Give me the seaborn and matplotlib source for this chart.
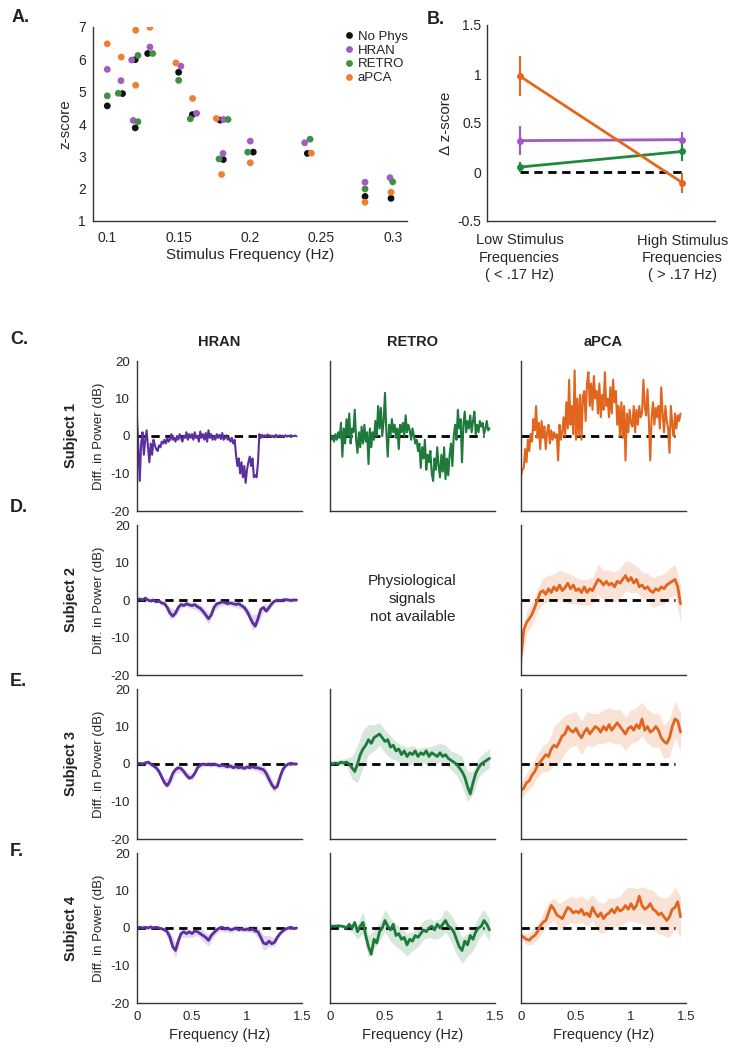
import numpy as np
import pandas as pd
import matplotlib
matplotlib.use("Agg")
import matplotlib.pyplot as plt
import seaborn as sns
from matplotlib import font_manager

# ---------------- data: panel A ----------------
methods = ["No Phys", "HRAN", "RETRO", "aPCA"]
nophys_x = [0.1, 0.1107, 0.1196, 0.1196, 0.1283, 0.15, 0.1596, 0.179, 0.1813, 0.2023, 0.2402, 0.2806, 0.2988]
nophys_z = [4.56, 4.94, 5.99, 3.88, 6.18, 5.60, 4.29, 4.12, 2.90, 3.13, 3.09, 1.76, 1.70]
hran_x = [0.1, 0.1096, 0.1171, 0.1182, 0.1299, 0.1516, 0.1626, 0.1815, 0.1811, 0.2002, 0.2383, 0.2806, 0.2981]
hran_z = [5.69, 5.34, 5.98, 4.11, 6.38, 5.79, 4.33, 4.14, 3.09, 3.47, 3.42, 2.20, 2.34]
retro_x = [0.1, 0.1077, 0.1215, 0.1215, 0.1318, 0.15, 0.1582, 0.1846, 0.1783, 0.1984, 0.2421, 0.2806, 0.3]
retro_z = [4.87, 4.95, 6.12, 4.07, 6.18, 5.35, 4.16, 4.14, 2.92, 3.13, 3.53, 1.99, 2.21]
apca_x = [0.1, 0.1098, 0.1199, 0.1199, 0.1299, 0.1481, 0.1598, 0.1764, 0.1801, 0.2002, 0.2430, 0.2806, 0.2988]
apca_z = [6.48, 6.07, 6.90, 5.20, 6.99, 5.89, 4.79, 4.17, 2.44, 2.80, 3.10, 1.58, 1.89]
a_xticks = [0.1, 0.15, 0.2, 0.25, 0.3]
a_xticklabels = ["0.1", "0.15", "0.2", "0.25", "0.3"]
a_yticks = [1, 2, 3, 4, 5, 6, 7]

# ---------------- data: panel B ----------------
b_groups = ["Low Stimulus\nFrequencies\n( < .17 Hz)", "High Stimulus\nFrequencies\n( > .17 Hz)"]
b_hran = [0.32, 0.33]
b_hran_err = [0.145, 0.075]
b_retro = [0.05, 0.21]
b_retro_err = [0.05, 0.10]
b_apca = [0.98, -0.11]
b_apca_err = [0.20, 0.10]
b_yticks = [-0.5, 0, 0.5, 1, 1.5]
b_yticklabels = ["-0.5", "0", "0.5", "1", "1.5"]

# ---------------- data: panels C-F (difference in power, dB) ----------------
fine_step = 0.0125      # subject 1 spectra
coarse_step = 0.025     # subjects 2-4 spectra

hran_s1 = [4.5, -3, -12, -2, 1, -5, -1, 1.5, -3, -7, -2, -5, -1,
           -2.5, -3.5, -4, -2.5, -3, -1.5, -2, -1, -2, -0.5, -1.5, -1,
           0.5, -1, -0.5, -1.5, 0, -1, 0.5, -0.5, -1.5, 0, -0.5, 1,
           -1, 0.5, -0.5, 0.5, -1, 1, -0.5, 0, -1.5, 1.2, -0.5, 0.5,
           -1, 0.8, -1.5, 1.5, -0.5, 0.5, -1, 0, -1, 0.5, -0.5, 0.3,
           -0.8, 0.8, -1, -0.5, 0.2, -1, -0.5, -1.5, -0.5, -2, -1, -5,
           -8, -6, -10, -7, -11, -8, -12.5, -9, -7, -5.5, -8, -6,
           -11, -10.5, -11, -7, 0.5, -0.5, 0.3, -0.3, 0.2, -0.2, 0.4, -0.1,
           0.2, -0.3, 0.1, -0.4, 0.3, 0, -0.2, 0.2, -0.3, 0.1, -0.1, 0.2,
           -0.2, 0.1, -0.1, 0.2, -0.1, 0, 0.1, -0.1]
retro_s1 = [0.5, -1, 0, -1.5, 0.5, -1, 1, -0.5, 3.5, -5.5, 2, -2, 4.5,
            0, 6, -2, 2, 1, 7, -1, -4.5, 1, -3, 2.5, -2,
            3, -1.5, 1, -7.5, 2, -3, 1, -1, 4, 0, 8, 2,
            7.5, 0, 4, 11.5, 1, -5.5, 3, 0, 4.5, 1, 3, -0.5,
            2, -3.5, 3, 1, 3.5, 0, 5.5, 1, 3, 1.5, -1, 2,
            0, -2, -1, -4, -2, -8.5, -3, -6, -1, -9, -5, -7,
            -4, -10, -12, -6, -9, -3, -8, -11, -5, -9.5, -3, -11.5,
            -6, -10.5, -5, -2, -8, 0, 3, -1, 7, 2, 4.5, -7,
            3, 6.5, 1, 4, 2, 5.5, 1, 4, 6.5, 0.5, 3, 1,
            4, 2.5, 3.5, 0.5, 2, 4, 1.5, 2]
apca_s1 = [-10.5, -9, -8.5, -3.5, -7, -1, -4, 0.5, -1.5, 4.5, 1.5, 8, -0.5,
           3.5, -3.5, 4, -0.5, 2.5, -3.5, 1, 3, -2, 1.5, -1, 1,
           -0.5, 0.5, -6.5, 3, -1, 1, 5, 0, 9, 2, 15, 3,
           8, 0.5, 17.5, -1, 10, 0, 11, -1, 10.5, 12, 4, 14,
           17, 8, 14, 7, 16, 10, 12, 6, 14, 5, 11, 7,
           17, 8, 10, 5, 13, 6, 15, 9, 12, 3, 8, 0,
           9, -0.5, 8, -6.5, 6, 1, 7, 3.5, 2.5, 8, 1, 7,
           3, 8, 5, 6, 15, 8, 5.5, 12.5, 4, -6.5, 5, 9,
           3, 7.5, 5, 8, 2, 13, 6, 1, 8, 4, 2, -4.5,
           8, 3, 0, 6, 2, 5.5, 4, 6]

hran_s2 = [0, 0.3, 0, 0.5, 0, -0.3, 0, -0.5, -0.3, -0.8,
           -1, -2, -3.5, -4.3, -3.5, -2, -1.2, -1.5, -1, -1.3,
           -1.5, -1.2, -1.8, -2.2, -3, -4, -5, -4, -2, -1,
           -0.8, -0.5, -0.7, -1, -0.8, -1, -1.2, -1, -1.5, -2,
           -3, -4.5, -6, -7, -5, -2.5, -2, -3, -2, -1,
           -0.3, 0, -0.2, 0, 0.1, 0, -0.1, 0, 0]
apca_s2 = [-15, -8, -6, -5, -3.8, -2, 0, 2, 2.5, 1.5,
           3, 2, 3.5, 2.5, 4, 2.5, 3.3, 4.5, 3, 4,
           2.5, 3, 2, 3.5, 2, 3, 2.5, 4, 5.5, 5,
           4, 5, 4, 4.5, 3.5, 5, 4.5, 5.5, 6.5, 5,
           6, 4.5, 5.5, 3.5, 4, 3, 3.5, 2.5, 2, 3,
           2.5, 3.5, 3, 4, 4.5, 5, 5.5, 3.5, -1]
hran_s3 = [0, 0.2, 0, 0.3, 0.5, 0, -0.5, -1, -2, -3.5,
           -5, -5.8, -4.5, -2.5, -1.5, -1, -1.2, -2, -3, -3.8,
           -3.5, -2.5, -1, -0.3, 0, -0.2, 0, -0.3, 0, -0.2,
           -0.5, -0.3, -0.5, -0.8, -0.5, -1, -0.7, -1, -0.8, -1.2,
           -0.8, -1, -0.7, -1, -1, -1.3, -1.5, -2.5, -4, -5.5,
           -6.5, -6, -3.5, -1.5, -0.5, 0, 0.2, 0, 0]
retro_s3 = [0.3, 0, 0.3, 0, 0.5, 0.3, 0.5, 0, -1, -2,
            0, 2.5, 4, 5, 6.5, 5.5, 7, 7.5, 8, 7,
            6, 6.5, 4.5, 5, 3.5, 4, 2.5, 3.5, 2, 3,
            2.5, 3.5, 2, 3, 2.5, 3.5, 2, 3, 2.5, 2,
            3, 2, 2.5, 1.5, 1, 0.5, 0, -1, -2, -3.5,
            -6, -8, -5, -2.5, -1, 0, 0.5, 1, 1.5]
apca_s3 = [-7, -6.5, -5, -4.5, -3, -2, -0.5, 0.5, 1.5, 2.5,
           2, 4, 5, 4.5, 6, 7.5, 8, 10, 9, 8.5,
           9.5, 8, 7, 8.5, 9.5, 8, 9, 10, 9.5, 8.5,
           10, 9, 10.5, 9, 10, 11, 10, 9, 8, 9.5,
           10, 9, 10.5, 9.5, 12, 9, 10, 8.5, 9, 10,
           9, 7, 6, 5.5, 7, 10, 12, 11.5, 8.5]
hran_s4 = [0, 0.2, 0, 0.2, 0, 0.3, 0, 0.2, 0, -0.2,
           -0.5, -1, -2.5, -5, -6, -3.5, -1.5, -1, -1.5, -1,
           -1.5, -0.8, -1, -1.5, -2, -2.5, -3.3, -2, -1.2, -0.5,
           0, 0.2, -0.3, 0, -0.5, -0.3, 0, -0.5, -0.2, -0.5,
           -0.3, -0.5, -0.3, -0.8, -1, -2.5, -4, -4.3, -3.5, -4.2,
           -3.8, -2.5, -1.5, -0.8, -0.3, 0, 0.2, -0.2, 0]
retro_s4 = [0.5, 0.5, 0.5, 0.6, 0.5, 0.4, 0, 1, 0, 1.5,
            -1, 0.5, 1.5, -2, -5, -7, -3, -4, -1, 0,
            2, 0.5, -0.5, 1, -2, -1.5, -3, -2.5, -4.5, -3,
            -3.5, -2, -2.5, -1.5, -0.5, -1, 0, 0.5, -0.5, 1,
            0, 1, 2, 0.5, 0, -1, -3, -5, -6, -3.5,
            -4.5, -2, -3, -1, 0, 0.5, 2, 1, -0.5]
apca_s4 = [-2, -2.5, -3, -3.3, -2.5, -2, -1, 0.5, 1.5, 2,
           4, 6, 5, 3.5, 3, 2.5, 4, 5.5, 5, 4,
           4.5, 4, 5, 3.5, 4, 3, 5.5, 4, 3, 4,
           2.5, 3.5, 4, 5, 4, 5.5, 4.5, 5, 6, 5,
           6.5, 5, 6, 8.5, 6, 5, 5.5, 6.5, 5, 4.5,
           3.5, 4, 3, 2, 3, 5, 5.5, 7, 3]

# half-width of the shaded variability band, every 0.05 Hz
sp_hran_s2 = [0.5, 0.5, 0.5, 0.5, 0.5, 0.7, 1.5, 1, 0.8, 0.8, 0.8, 1, 1.2, 1.5, 1, 0.8, 0.8, 0.8, 0.8, 1,
              1.2, 2, 1.5, 1, 0.8, 0.5, 0.5, 0.5, 0.5, 0.5]
sp_apca_s2 = [3, 3, 3, 3, 3.5, 3.5, 3.5, 4, 4, 4, 3.5, 3.5, 3.5, 3.5, 4, 4, 4, 4, 4, 4,
              4, 3.5, 3.5, 3.5, 4, 4, 4, 4, 4, 5]
sp_hran_s3 = [0.5, 0.5, 0.5, 0.6, 0.8, 1, 1.2, 1, 1, 1, 0.8, 0.7, 0.6, 0.6, 0.6, 0.6, 0.6, 0.7, 0.8, 0.8,
              0.7, 0.8, 1, 1.5, 1.5, 1.2, 0.8, 0.5, 0.5, 0.5]
sp_retro_s3 = [0.5, 0.5, 0.8, 1, 3, 5, 5, 4, 3.5, 3, 3, 3, 2.5, 2.5, 2.5, 2.5, 2, 2, 2.5, 2.5,
               2.5, 2.5, 2.5, 3, 4, 4, 3, 2.5, 2.5, 2.5]
sp_apca_s3 = [2, 2.5, 3, 3, 3.5, 4, 5, 5.5, 5, 4.5, 4.5, 4.5, 4.5, 4.5, 4, 4.5, 4.5, 4.5, 4.5, 4.5,
              4.5, 4.5, 4.5, 4.5, 4.5, 4.5, 4.5, 5, 5, 5]
sp_hran_s4 = [0.3, 0.3, 0.3, 0.3, 0.3, 0.5, 1.5, 2, 1, 1, 1, 1, 1.5, 1.5, 1, 0.8, 0.8, 0.8, 0.8, 0.8,
              0.8, 1, 1.5, 2, 1.5, 1, 0.5, 0.5, 0.5, 0.5]
sp_retro_s4 = [0.3, 0.3, 0.3, 0.5, 1, 2, 3, 3, 2.5, 2.5, 3, 3, 3, 3, 3, 2.5, 2.5, 2.5, 2.5, 2.5,
               2.5, 3, 3.5, 4, 3.5, 3, 3, 3, 3, 3]
sp_apca_s4 = [1, 1.5, 2, 2, 2.5, 3, 3, 3.5, 3.5, 3.5, 3.5, 3.5, 3.5, 3.5, 4, 4, 4, 4, 4, 4.5,
              4.5, 4.5, 5, 5, 5, 5, 5, 5.5, 5.5, 5.5]

col_titles = ["HRAN", "RETRO", "aPCA"]
row_titles = ["Subject 1", "Subject 2", "Subject 3", "Subject 4"]
row_letters = ["C.", "D.", "E.", "F."]
spec_yticks = [-20, -10, 0, 10, 20]
spec_xticks = [0, 0.5, 1, 1.5]
spec_xticklabels = ["0", "0.5", "1", "1.5"]
na_text = "Physiological\nsignals\nnot available"

# ---------------- style ----------------
sns.set_style("white")
names = {f.name for f in font_manager.fontManager.ttflist}
main_font = "Liberation Sans" if "Liberation Sans" in names else "DejaVu Sans"
narrow_font = "Liberation Sans Narrow" if "Liberation Sans Narrow" in names else main_font
plt.rcParams["font.family"] = [main_font, "DejaVu Sans"]
plt.rcParams["axes.edgecolor"] = "#333333"
plt.rcParams["axes.linewidth"] = 1.0
plt.rcParams["text.color"] = "#222222"

pal_a = {"No Phys": "#111111", "HRAN": "#a35cc0", "RETRO": "#3f8f47", "aPCA": "#f07f35"}
pal_b = {"HRAN": "#a258c4", "RETRO": "#1f8a3c", "aPCA": "#e8661c"}
trace_col = {"HRAN": "#5c2e9e", "RETRO": "#1d7a3a", "aPCA": "#e2651e"}

W, H = 737, 1050
fig = plt.figure(figsize=(W / 100, H / 100), dpi=100)


def px_axes(left, top, width, height):
    return fig.add_axes([left / W, 1 - (top + height) / H, width / W, height / H])


def clean(ax):
    for s in ("top", "right"):
        ax.spines[s].set_visible(False)
    ax.tick_params(length=0)


# ---------------- panel A ----------------
axA = px_axes(93, 27, 314, 194)
dfA = pd.concat([
    pd.DataFrame({"freq": nophys_x, "z": nophys_z, "method": "No Phys"}),
    pd.DataFrame({"freq": hran_x, "z": hran_z, "method": "HRAN"}),
    pd.DataFrame({"freq": retro_x, "z": retro_z, "method": "RETRO"}),
    pd.DataFrame({"freq": apca_x, "z": apca_z, "method": "aPCA"}),
], ignore_index=True)
sns.scatterplot(data=dfA, x="freq", y="z", hue="method", hue_order=methods,
                palette=pal_a, s=24, linewidth=0, ax=axA)
axA.set_xlim(0.09, 0.31)
axA.set_ylim(1, 7)
axA.set_xticks(a_xticks)
axA.set_xticklabels(a_xticklabels)
axA.set_yticks(a_yticks)
axA.tick_params(axis="both", labelsize=10)
axA.tick_params(axis="x", pad=7)
axA.tick_params(axis="y", pad=5)
axA.set_xlabel("Stimulus Frequency (Hz)", fontsize=11, labelpad=2)
axA.set_ylabel("z-score", fontsize=11, labelpad=4)
clean(axA)
h, l = axA.get_legend_handles_labels()
axA.legend(h, l, loc="upper left", bbox_to_anchor=(334 / W, 1 - 24 / H),
           bbox_transform=fig.transFigure, frameon=False, fontsize=9.5,
           handletextpad=0.1, labelspacing=0.12, borderpad=0, handlelength=1.2,
           markerscale=1.0)

# ---------------- panel B ----------------
axB = px_axes(487, 25, 228, 196)
dfB = pd.concat([
    pd.DataFrame({"pos": [0, 1], "dz": b_hran, "err": b_hran_err, "method": "HRAN"}),
    pd.DataFrame({"pos": [0, 1], "dz": b_retro, "err": b_retro_err, "method": "RETRO"}),
    pd.DataFrame({"pos": [0, 1], "dz": b_apca, "err": b_apca_err, "method": "aPCA"}),
], ignore_index=True)
axB.hlines(0, 0, 1, colors="black", linestyles=(0, (3, 2)), lw=2, zorder=1)
sns.lineplot(data=dfB, x="pos", y="dz", hue="method", palette=pal_b, lw=2,
             marker="o", markersize=5, markeredgewidth=0, legend=False, ax=axB, zorder=3)
for m in ["HRAN", "RETRO", "aPCA"]:
    sub = dfB[dfB["method"] == m]
    axB.errorbar(sub["pos"], sub["dz"], yerr=sub["err"], fmt="none",
                 ecolor=pal_b[m], elinewidth=1.5, capsize=0, zorder=2)
axB.set_xlim(-0.2, 1.2)
axB.set_ylim(-0.5, 1.5)
axB.set_xticks([0, 1])
axB.set_xticklabels(b_groups, fontsize=10.5, linespacing=1.3)
axB.set_yticks(b_yticks)
axB.set_yticklabels(b_yticklabels)
axB.tick_params(axis="y", labelsize=10, pad=4)
axB.tick_params(axis="x", pad=9)
axB.set_xlabel("")
axB.set_ylabel("\u0394 z-score", fontsize=11, labelpad=3)
clean(axB)

fig.text(12 / W, 1 - 18 / H, "A.", fontsize=13, fontweight="bold", va="center", ha="left")
fig.text(427 / W, 1 - 19 / H, "B.", fontsize=13, fontweight="bold", va="center", ha="left")

# ---------------- panels C-F ----------------
lefts = [137, 330, 521]
tops = [361, 525, 689, 853]
aw, ah = 165, 150
f_fine = np.arange(len(hran_s1)) * fine_step
f_coarse = np.arange(len(hran_s2)) * coarse_step

rows = [
    [(hran_s1, None), (retro_s1, None), (apca_s1, None)],
    [(hran_s2, sp_hran_s2), None, (apca_s2, sp_apca_s2)],
    [(hran_s3, sp_hran_s3), (retro_s3, sp_retro_s3), (apca_s3, sp_apca_s3)],
    [(hran_s4, sp_hran_s4), (retro_s4, sp_retro_s4), (apca_s4, sp_apca_s4)],
]

for r, row in enumerate(rows):
    for c, cell in enumerate(row):
        m = col_titles[c]
        if cell is None:
            fig.text((lefts[c] + aw / 2) / W, 1 - 599 / H, na_text, ha="center", va="center",
                     fontsize=11, family=[narrow_font, "DejaVu Sans"], linespacing=1.35)
            continue
        ax = px_axes(lefts[c], tops[r], aw, ah)
        vals, spread = cell
        vals = np.asarray(vals, dtype=float)
        freq = f_fine if r == 0 else f_coarse
        if spread is not None:
            sub = slice(None, None, 2)
            sp = np.asarray(spread, dtype=float)
            ax.fill_between(freq[sub], vals[sub] - sp, vals[sub] + sp,
                            color=trace_col[m], alpha=0.18, lw=0, zorder=0.5)
        ax.hlines(0, 0, 1.4, colors="black", linestyles=(0, (3, 2)), lw=2, zorder=1)
        sns.lineplot(x=freq, y=vals, color=trace_col[m], lw=1.5 if r == 0 else 2.0,
                     ax=ax, zorder=2)
        ax.set_xlim(0, 1.5)
        ax.set_ylim(-20, 20)
        ax.set_xticks(spec_xticks)
        ax.set_yticks(spec_yticks)
        clean(ax)
        ax.tick_params(axis="y", pad=5)
        ax.tick_params(axis="x", pad=6)
        if c == 0:
            ax.set_yticklabels([str(v) for v in spec_yticks], fontsize=9.5,
                               family=[narrow_font, "DejaVu Sans"])
            ax.set_ylabel("Diff. in Power (dB)", fontsize=9.5, labelpad=4)
        else:
            ax.set_yticklabels([])
        if r == 3:
            ax.set_xticklabels(spec_xticklabels, fontsize=9.5, family=[narrow_font, "DejaVu Sans"])
            ax.set_xlabel("Frequency (Hz)", fontsize=10.5, labelpad=3)
        else:
            ax.set_xticklabels([])
        if r == 0:
            ax.set_title(m, fontsize=10.5, fontweight="bold", pad=11)

row_letter_y = [339, 507, 682, 852]
for r in range(4):
    fig.text(71 / W, 1 - (tops[r] + ah / 2) / H, row_titles[r], rotation=90,
             ha="center", va="center", fontsize=10.5, fontweight="bold")
    fig.text(10 / W, 1 - row_letter_y[r] / H, row_letters[r], fontsize=13,
             fontweight="bold", ha="left", va="center")

fig.savefig("out.png", dpi=100)
